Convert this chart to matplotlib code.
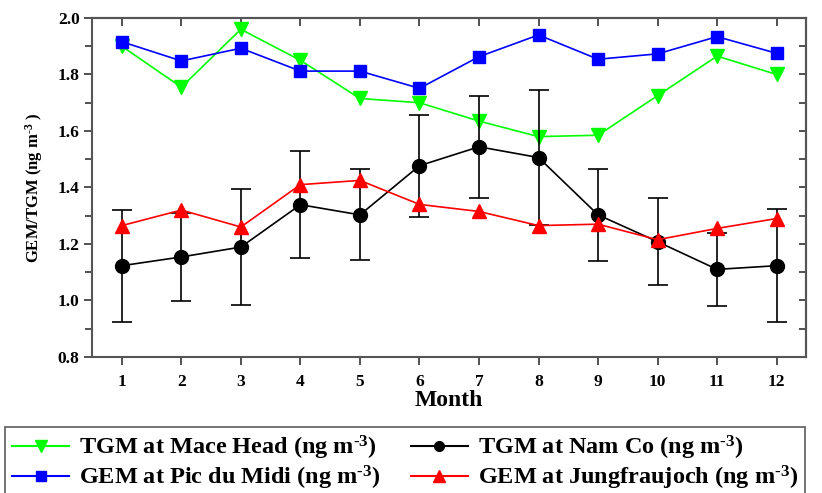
import matplotlib
matplotlib.use("Agg")
import matplotlib.pyplot as plt
from matplotlib.ticker import MultipleLocator, FormatStrFormatter
from matplotlib.lines import Line2D

plt.rcParams['font.family'] = ['Liberation Serif', 'DejaVu Serif']
plt.rcParams['font.weight'] = 'bold'
plt.rcParams['mathtext.fontset'] = 'custom'
plt.rcParams['mathtext.rm'] = 'Liberation Serif:bold'
plt.rcParams['mathtext.it'] = 'Liberation Serif:bold'
plt.rcParams['mathtext.bf'] = 'Liberation Serif:bold'

months = [1, 2, 3, 4, 5, 6, 7, 8, 9, 10, 11, 12]
mace_head = [1.90, 1.755, 1.96, 1.85, 1.715, 1.70, 1.635, 1.58, 1.585, 1.725, 1.865, 1.80]
pic_du_midi = [1.916, 1.848, 1.893, 1.812, 1.812, 1.751, 1.863, 1.940, 1.854, 1.873, 1.934, 1.875]
nam_co = [1.123, 1.154, 1.189, 1.339, 1.303, 1.477, 1.544, 1.506, 1.303, 1.208, 1.110, 1.123]
nam_co_err = [0.198, 0.157, 0.205, 0.190, 0.161, 0.181, 0.181, 0.240, 0.162, 0.153, 0.128, 0.200]
jungfraujoch = [1.265, 1.32, 1.26, 1.41, 1.425, 1.34, 1.315, 1.265, 1.27, 1.215, 1.255, 1.29]

unit = 'ng m$^{\u20103}$'
lab_mh = 'TGM at Mace Head (' + unit + ')'
lab_pd = 'GEM at Pic du Midi (' + unit + ')'
lab_nc = 'TGM at Nam Co (' + unit + ')'
lab_jf = 'GEM at Jungfraujoch (' + unit + ')'

fig = plt.figure(figsize=(8.22, 4.93), dpi=100)
ax = fig.add_axes([0.112, 0.276, 0.869, 0.6875])

ax.plot(months, mace_head, color='#00ff00', marker='v', markersize=10, lw=1.2, zorder=3)
ax.plot(months, pic_du_midi, color='#0000ff', marker='s', markersize=9, lw=1.2, zorder=3)
ax.errorbar(months, nam_co, yerr=nam_co_err, color='black', marker='o', markersize=10,
            lw=1.2, elinewidth=1.2, capsize=7, capthick=1.2, zorder=3)
ax.plot(months, jungfraujoch, color='#ff0000', marker='^', markersize=10, lw=1.2, zorder=4)

ax.set_xlim(0.5, 12.5)
ax.set_ylim(0.8, 2.0)
ax.set_xticks(months)
ax.yaxis.set_major_locator(MultipleLocator(0.2))
ax.yaxis.set_minor_locator(MultipleLocator(0.1))
ax.yaxis.set_major_formatter(FormatStrFormatter('%.1f'))
ax.tick_params(axis='both', which='both', labelsize=12.5, width=1.2, colors='#333333',
               labelcolor='black')
ax.tick_params(axis='x', which='major', direction='out', length=6, top=False, pad=6)
ax.tick_params(axis='y', which='major', direction='out', length=6, right=False, pad=3)
ax.tick_params(axis='y', which='minor', direction='out', length=5, right=False)
for lab in ax.get_xticklabels() + ax.get_yticklabels():
    lab.set_fontweight('bold')

# inward ticks on top and right
ax2 = ax.secondary_xaxis('top')
ax2.set_xticks(months)
ax2.tick_params(direction='in', length=6, width=1.2, colors='#333333', labeltop=False)
ay2 = ax.secondary_yaxis('right')
ay2.yaxis.set_major_locator(MultipleLocator(0.1))
ay2.tick_params(direction='in', length=5, width=1.2, colors='#333333', labelright=False)
for a in (ax2, ay2):
    for s in a.spines.values():
        s.set_linewidth(1.5)
        s.set_color('#555555')

for s in ax.spines.values():
    s.set_linewidth(1.5)
    s.set_color('#555555')

ax.set_xlabel('Month', fontsize=17, fontweight='bold', labelpad=0)
ax.set_ylabel('GEM/TGM (ng m$^{\u20103}$ )', fontsize=12, fontweight='bold', labelpad=9)

handles = [
    Line2D([], [], color='#00ff00', marker='v', markersize=8, lw=1.5),
    Line2D([], [], color='#0000ff', marker='s', markersize=7, lw=1.5),
    Line2D([], [], color='black', marker='o', markersize=7, lw=1.5),
    Line2D([], [], color='#ff0000', marker='^', markersize=8, lw=1.5),
]
labels = [lab_mh, lab_pd, lab_nc, lab_jf]
leg = fig.legend(handles, labels, loc='upper left', bbox_to_anchor=(0.006, 0.134),
                 ncol=2, frameon=True, fancybox=False, edgecolor='#333333',
                 handlelength=2.35, handletextpad=0.4, columnspacing=1.25,
                 borderpad=0.3, labelspacing=0.05, borderaxespad=0,
                 prop={'family': 'Liberation Serif', 'weight': 'bold', 'size': 17.5})
leg.get_frame().set_linewidth(1.2)

fig.savefig('out.png', dpi=100)
